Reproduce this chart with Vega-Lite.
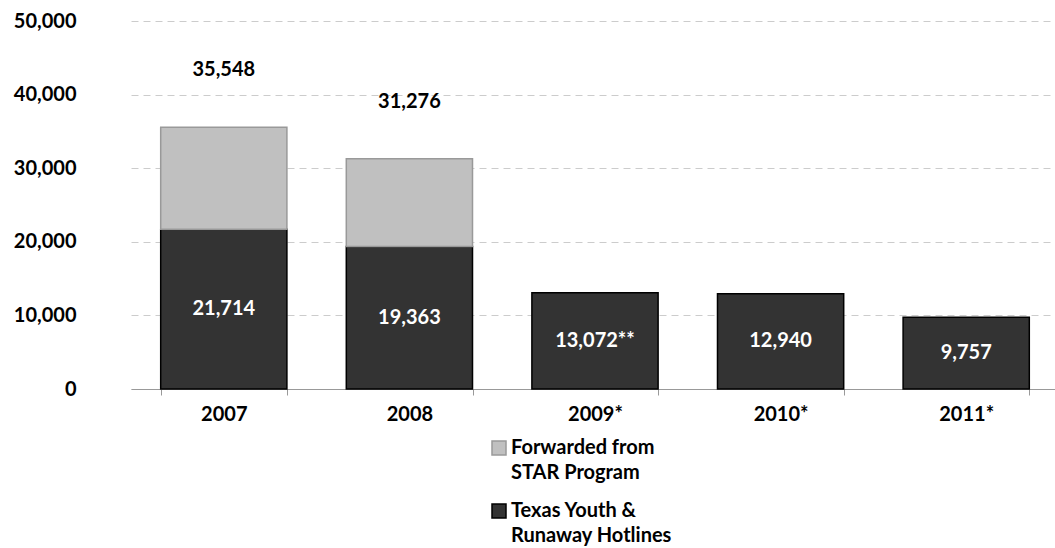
{
  "$schema": "https://vega.github.io/schema/vega-lite/v6.json",
  "width": 928,
  "height": 368,
  "autosize": "none",
  "padding": {"left": 131, "top": 21, "right": 0, "bottom": 159},
  "background": "white",
  "config": {"view": {"stroke": null}, "font": "Lato"},
  "datasets": {
    "bars": [
      {"year": "2007", "series": "Texas Youth & Runaway Hotlines", "value": 21714, "label": "21,714"},
      {"year": "2007", "series": "Forwarded from STAR Program", "value": 13834, "label": ""},
      {"year": "2008", "series": "Texas Youth & Runaway Hotlines", "value": 19363, "label": "19,363"},
      {"year": "2008", "series": "Forwarded from STAR Program", "value": 11913, "label": ""},
      {"year": "2009*", "series": "Texas Youth & Runaway Hotlines", "value": 13072, "label": "13,072**"},
      {"year": "2010*", "series": "Texas Youth & Runaway Hotlines", "value": 12940, "label": "12,940"},
      {"year": "2011*", "series": "Texas Youth & Runaway Hotlines", "value": 9757, "label": "9,757"}
    ],
    "totals": [
      {"year": "2007", "total": 35548, "label": "35,548"},
      {"year": "2008", "total": 31276, "label": "31,276"}
    ]
  },
  "encoding": {
    "x": {
      "field": "year", "type": "nominal", "sort": null,
      "scale": {"domain": ["2007", "2008", "2009*", "2010*", "2011*"], "paddingInner": 0.32, "paddingOuter": 0.16},
      "axis": {
        "title": null, "labelAngle": 0, "labelFont": "Lato", "labelFontSize": 20, "labelFontWeight": "bold",
        "labelColor": "#000000", "labelPadding": 9, "domainColor": "#999999", "tickColor": "#999999",
        "tickSize": 6, "tickBand": "extent", "grid": false
      }
    }
  },
  "layer": [
    {
      "data": {"name": "bars"},
      "mark": {"type": "bar", "strokeWidth": 1.5},
      "encoding": {
        "y": {
          "field": "value", "type": "quantitative", "stack": "zero",
          "scale": {"domain": [0, 50000], "nice": false},
          "axis": {
            "title": null, "values": [0, 10000, 20000, 30000, 40000, 50000], "format": ",d",
            "domain": false, "ticks": false, "labelPadding": 55, "labelFont": "Lato", "labelFontSize": 20,
            "labelFontWeight": "bold", "labelColor": "#000000", "gridColor": "#cccccc", "gridDash": [7, 5], "gridWidth": 1
          }
        },
        "color": {
          "field": "series", "type": "nominal",
          "scale": {"domain": ["Forwarded from STAR Program", "Texas Youth & Runaway Hotlines"], "range": ["#c0c0c0", "#333333"]},
          "legend": {
            "title": null, "orient": "none", "legendX": 358, "legendY": 417,
            "symbolType": "square", "symbolSize": 196, "symbolStrokeWidth": 1.5,
            "labelFont": "Lato", "labelFontSize": 20, "labelFontWeight": "bold", "labelColor": "#000000",
            "labelOffset": 2, "labelLimit": 400, "rowPadding": 18,
            "labelExpr": "datum.label == 'Forwarded from STAR Program' ? ['Forwarded from', 'STAR Program'] : ['Texas Youth &', 'Runaway Hotlines']",
            "encode": {"labels": {"update": {"lineHeight": {"value": 25}}}}
          }
        },
        "stroke": {
          "field": "series", "type": "nominal",
          "scale": {"domain": ["Forwarded from STAR Program", "Texas Youth & Runaway Hotlines"], "range": ["#999999", "#000000"]},
          "legend": {
            "title": null, "orient": "none", "legendX": 358, "legendY": 417,
            "symbolType": "square", "symbolSize": 196, "symbolStrokeWidth": 1.5,
            "labelFont": "Lato", "labelFontSize": 20, "labelFontWeight": "bold", "labelColor": "#000000",
            "labelOffset": 2, "labelLimit": 400, "rowPadding": 18,
            "labelExpr": "datum.label == 'Forwarded from STAR Program' ? ['Forwarded from', 'STAR Program'] : ['Texas Youth &', 'Runaway Hotlines']",
            "encode": {"labels": {"update": {"lineHeight": {"value": 25}}}}
          }
        },
        "order": {"field": "series", "sort": "descending"}
      }
    },
    {
      "data": {"name": "bars"},
      "transform": [
        {"filter": "datum.series == 'Texas Youth & Runaway Hotlines'"},
        {"calculate": "datum.value / 2", "as": "mid"}
      ],
      "mark": {"type": "text", "font": "Lato", "fontSize": 20, "fontWeight": "bold", "color": "#ffffff", "baseline": "middle"},
      "encoding": {
        "y": {"field": "mid", "type": "quantitative"},
        "text": {"field": "label"}
      }
    },
    {
      "data": {"name": "totals"},
      "mark": {"type": "text", "font": "Lato", "fontSize": 20, "fontWeight": "bold", "color": "#000000", "baseline": "middle", "dy": -57},
      "encoding": {
        "y": {"field": "total", "type": "quantitative"},
        "text": {"field": "label"}
      }
    }
  ]
}
